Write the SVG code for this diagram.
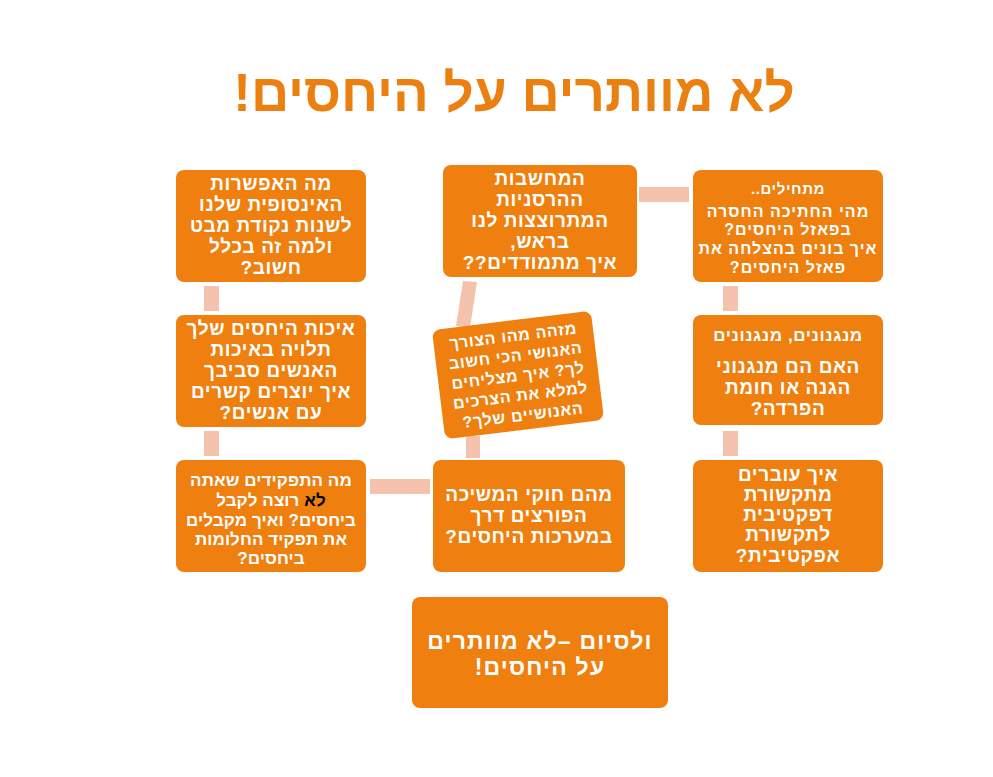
<svg xmlns="http://www.w3.org/2000/svg" width="993" height="777" viewBox="0 0 993 777">
<style>
.box{fill:#EF7F0E}
.con{fill:#F5C2AD}
text{font-family:"Liberation Sans","DejaVu Sans",sans-serif;font-weight:bold;fill:#FFFFFF;text-anchor:middle;direction:rtl;unicode-bidi:embed;letter-spacing:0.6px}
.t20{font-size:19px}
.t18{font-size:17px}
.t18n{font-size:17px;letter-spacing:0.1px}
.t17{font-size:16px;letter-spacing:1px}
.t17r{font-size:16px;letter-spacing:0.7px}
.t16{font-size:15px}
.t23{font-size:23px;letter-spacing:1.2px}
.title{font-size:53px;fill:#EB8011;letter-spacing:0}
.blk{fill:#000000}
</style>
<rect width="993" height="777" fill="#FFFFFF"/>
<text class="title" x="514" y="111">לא מוותרים על היחסים!</text>

<g id="connectors">
<rect class="con" x="639" y="187" width="50" height="15"/>
<rect class="con" x="723" y="286" width="15" height="25"/>
<rect class="con" x="723" y="431" width="15" height="25"/>
<rect class="con" x="204" y="286" width="15" height="25"/>
<rect class="con" x="204" y="431" width="15" height="25"/>
<rect class="con" x="370" y="479" width="60" height="15"/>
<polygon class="con" points="463,281 477,282 470,328 456,326"/>
<rect class="con" x="466" y="436" width="14" height="22"/>
</g>

<g id="node-top-left">
<rect class="box" x="176" y="170" width="190" height="112" rx="8"/>
<text class="t20" x="271" y="190">מה האפשרות</text>
<text class="t20" x="271" y="211">האינסופית שלנו</text>
<text class="t20" x="271" y="232">לשנות נקודת מבט</text>
<text class="t20" x="271" y="253">ולמה זה בכלל</text>
<text class="t20" x="271" y="274">חשוב?</text>
</g>

<g id="node-top-middle">
<rect class="box" x="443" y="165" width="194" height="112" rx="8"/>
<text class="t20" x="540" y="185">המחשבות</text>
<text class="t20" x="540" y="206">ההרסניות</text>
<text class="t20" x="540" y="227">המתרוצצות לנו</text>
<text class="t20" x="540" y="248">בראש,</text>
<text class="t20" x="540" y="269">איך מתמודדים??</text>
</g>

<g id="node-top-right">
<rect class="box" x="693" y="170" width="190" height="112" rx="8"/>
<text class="t16" x="788" y="194">מתחילים..</text>
<text class="t17" x="788" y="217">מהי החתיכה החסרה</text>
<text class="t17" x="788" y="235">בפאזל היחסים?</text>
<text class="t17" x="788" y="254">איך בונים בהצלחה את</text>
<text class="t17" x="788" y="273">פאזל היחסים?</text>
</g>

<g id="node-mid-left">
<rect class="box" x="176" y="315" width="190" height="112" rx="8"/>
<text class="t20" x="271" y="335">איכות היחסים שלך</text>
<text class="t20" x="271" y="356">תלויה באיכות</text>
<text class="t20" x="271" y="377">האנשים סביבך</text>
<text class="t20" x="271" y="398">איך יוצרים קשרים</text>
<text class="t20" x="271" y="419">עם אנשים?</text>
</g>

<g id="node-mid-center" transform="translate(518,375) rotate(-7)">
<rect class="box" x="-80" y="-55" width="160" height="110" rx="8"/>
<text class="t17r" x="0" y="-34">מזהה מהו הצורך</text>
<text class="t17r" x="0" y="-14">האנושי הכי חשוב</text>
<text class="t17r" x="0" y="6">לך? איך מצליחים</text>
<text class="t17r" x="0" y="26">למלא את הצרכים</text>
<text class="t17r" x="0" y="46">האנושיים שלך?</text>
</g>

<g id="node-mid-right">
<rect class="box" x="693" y="315" width="190" height="110" rx="8"/>
<text class="t18" x="788" y="341">מנגנונים, מנגנונים</text>
<text class="t20" x="788" y="373">האם הם מנגנוני</text>
<text class="t20" x="788" y="394">הגנה או חומת</text>
<text class="t20" x="788" y="415">הפרדה?</text>
</g>

<g id="node-bottom-left">
<rect class="box" x="176" y="460" width="190" height="112" rx="8"/>
<text class="t18n" x="271" y="486">מה התפקידים שאתה</text>
<text class="t18n" x="271" y="506"><tspan class="blk">לא</tspan> רוצה לקבל</text>
<text class="t18n" x="271" y="526">ביחסים? ואיך מקבלים</text>
<text class="t18n" x="271" y="545">את תפקיד החלומות</text>
<text class="t18n" x="271" y="564">ביחסים?</text>
</g>

<g id="node-bottom-middle">
<rect class="box" x="433" y="460" width="192" height="112" rx="8"/>
<text class="t20" x="529" y="501">מהם חוקי המשיכה</text>
<text class="t20" x="529" y="522">הפורצים דרך</text>
<text class="t20" x="529" y="543">במערכות היחסים?</text>
</g>

<g id="node-bottom-right">
<rect class="box" x="693" y="460" width="190" height="112" rx="8"/>
<text class="t20" x="788" y="481">איך עוברים</text>
<text class="t20" x="788" y="501">מתקשורת</text>
<text class="t20" x="788" y="521">דפקטיבית</text>
<text class="t20" x="788" y="541">לתקשורת</text>
<text class="t20" x="788" y="562">אפקטיבית?</text>
</g>

<g id="node-final">
<rect class="box" x="412" y="597" width="256" height="111" rx="8"/>
<text class="t23" x="540" y="649">ולסיום –לא מוותרים</text>
<text class="t23" x="540" y="675">על היחסים!</text>
</g>
</svg>
